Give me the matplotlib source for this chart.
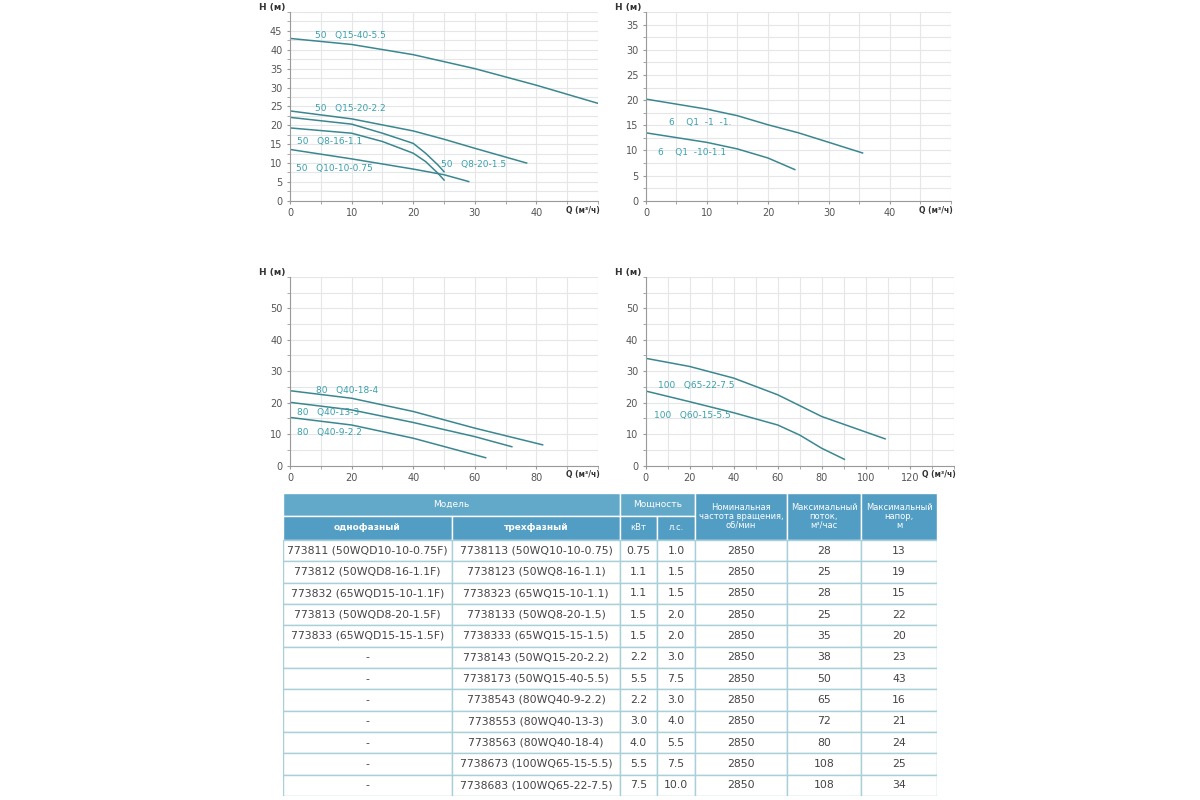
import matplotlib
matplotlib.use("Agg")
import matplotlib.pyplot as plt
from matplotlib.patches import Rectangle
from matplotlib.ticker import MultipleLocator

plt.rcParams['font.family'] = ['DejaVu Sans']

# ---- данные графиков (Q м3/ч, H м) ----
# график 1
q_15_40 = [0, 10, 20, 30, 40, 50]
h_15_40 = [43.0, 41.4, 38.7, 35.0, 30.6, 25.8]
q_15_20 = [0, 10, 20, 25, 30, 38.4]
h_15_20 = [23.8, 21.7, 18.5, 16.3, 13.9, 10.0]
q_8_20 = [0, 10, 15, 20, 22, 24, 25]
h_8_20 = [22.1, 20.3, 17.9, 15.2, 12.6, 9.5, 7.7]
q_8_16 = [0, 10, 15, 20, 22, 24, 25]
h_8_16 = [19.3, 17.9, 15.7, 12.6, 10.4, 7.3, 5.5]
q_10_10 = [0, 10, 20, 25, 29]
h_10_10 = [13.6, 11.1, 8.4, 6.9, 5.1]
# график 2
q_1_a = [0, 10, 15, 20, 25, 30, 35.5]
h_1_a = [20.2, 18.2, 16.9, 15.1, 13.5, 11.6, 9.5]
q_1_b = [0, 10, 15, 20, 24.4]
h_1_b = [13.5, 11.6, 10.3, 8.5, 6.2]
# график 3
q_40_18 = [0, 20, 40, 60, 82]
h_40_18 = [23.8, 21.4, 17.2, 11.9, 6.6]
q_40_13 = [0, 20, 40, 60, 72]
h_40_13 = [20.1, 17.7, 13.7, 9.2, 6.0]
q_40_9 = [0, 20, 40, 63.5]
h_40_9 = [15.3, 12.9, 8.7, 2.5]
# график 4
q_65_22 = [0, 20, 40, 60, 80, 108.8]
h_65_22 = [34.1, 31.5, 27.8, 22.5, 15.6, 8.5]
q_60_15 = [0, 20, 40, 60, 70, 80, 90.3]
h_60_15 = [23.7, 20.3, 16.8, 12.9, 9.7, 5.5, 2.0]

# ---- данные таблицы ----
odnofaz = ["773811 (50WQD10-10-0.75F)", "773812 (50WQD8-16-1.1F)", "773832 (65WQD15-10-1.1F)",
           "773813 (50WQD8-20-1.5F)", "773833 (65WQD15-15-1.5F)", "-", "-", "-", "-", "-", "-", "-"]
trehfaz = ["7738113 (50WQ10-10-0.75)", "7738123 (50WQ8-16-1.1)", "7738323 (65WQ15-10-1.1)",
           "7738133 (50WQ8-20-1.5)", "7738333 (65WQ15-15-1.5)", "7738143 (50WQ15-20-2.2)",
           "7738173 (50WQ15-40-5.5)", "7738543 (80WQ40-9-2.2)", "7738553 (80WQ40-13-3)",
           "7738563 (80WQ40-18-4)", "7738673 (100WQ65-15-5.5)", "7738683 (100WQ65-22-7.5)"]
kvt = ["0.75", "1.1", "1.1", "1.5", "1.5", "2.2", "5.5", "2.2", "3.0", "4.0", "5.5", "7.5"]
ls = ["1.0", "1.5", "1.5", "2.0", "2.0", "3.0", "7.5", "3.0", "4.0", "5.5", "7.5", "10.0"]
oboroty = ["2850"] * 12
potok = ["28", "25", "28", "25", "35", "38", "50", "65", "72", "80", "108", "108"]
napor = ["13", "19", "15", "22", "20", "23", "43", "16", "21", "24", "25", "34"]

line_c = '#3b8790'
lab_c = '#3aa0ad'
grid_c = '#e4e6e8'
tick_c = '#555555'

fig = plt.figure(figsize=(12, 8), dpi=100)


def make_axes(rect, xmax, ymax, xmaj, xmin, ymaj, ymin, xlast):
    ax = fig.add_axes(rect)
    ax.set_xlim(0, xmax)
    ax.set_ylim(0, ymax)
    ax.xaxis.set_minor_locator(MultipleLocator(xmin))
    ax.yaxis.set_minor_locator(MultipleLocator(ymin))
    ax.set_xticks(list(range(0, xlast + 1, xmaj)))
    ax.set_yticks(list(range(0, int(ymax), ymaj)))
    ax.grid(which='both', color=grid_c, lw=0.8)
    ax.set_axisbelow(True)
    for s in ['top', 'right']:
        ax.spines[s].set_visible(False)
    for s in ['left', 'bottom']:
        ax.spines[s].set_color('#9a9a9a')
        ax.spines[s].set_linewidth(0.8)
    ax.tick_params(which='both', length=2, color='#9a9a9a', labelsize=7, labelcolor=tick_c)
    ax.text(-0.1, 1.0, "H (м)", transform=ax.transAxes, fontsize=6.5, color='#333333',
            ha='left', va='bottom', fontweight='bold')
    ax.text(1.005, -0.025, "Q (м³/ч)", transform=ax.transAxes, fontsize=5.5, color='#333333',
            ha='right', va='top', fontweight='bold')
    return ax


# график 1
ax1 = make_axes([0.2417, 0.749, 0.2567, 0.236], 50, 50, 10, 5, 5, 2.5, 40)
ax1.set_yticks(list(range(0, 50, 5)))
for q, h in [(q_15_40, h_15_40), (q_15_20, h_15_20), (q_8_20, h_8_20),
             (q_8_16, h_8_16), (q_10_10, h_10_10)]:
    ax1.plot(q, h, color=line_c, lw=1.1)
ax1.text(4.0, 43.8, "50   Q15-40-5.5", color=lab_c, fontsize=6.5, va='center')
ax1.text(4.0, 24.5, "50   Q15-20-2.2", color=lab_c, fontsize=6.5, va='center')
ax1.text(1.2, 15.8, "50   Q8-16-1.1", color=lab_c, fontsize=6.5, va='center')
ax1.text(0.9, 8.6, "50   Q10-10-0.75", color=lab_c, fontsize=6.5, va='center')
ax1.text(24.5, 9.7, "50   Q8-20-1.5", color=lab_c, fontsize=6.5, va='center')

# график 2
ax2 = make_axes([0.5383, 0.749, 0.2542, 0.236], 50, 37.5, 10, 5, 5, 2.5, 40)
ax2.set_yticks(list(range(0, 40, 5)))
for q, h in [(q_1_a, h_1_a), (q_1_b, h_1_b)]:
    ax2.plot(q, h, color=line_c, lw=1.1)
ax2.text(3.8, 15.6, "6    Q1  -1  -1.", color=lab_c, fontsize=6.5, va='center')
ax2.text(2.0, 9.5, "6    Q1  -10-1.1", color=lab_c, fontsize=6.5, va='center')

# график 3
ax3 = make_axes([0.2417, 0.418, 0.2567, 0.236], 100, 60, 20, 10, 10, 5, 80)
for q, h in [(q_40_18, h_40_18), (q_40_13, h_40_13), (q_40_9, h_40_9)]:
    ax3.plot(q, h, color=line_c, lw=1.1)
ax3.text(8.4, 24.0, "80   Q40-18-4", color=lab_c, fontsize=6.5, va='center')
ax3.text(2.2, 17.0, "80   Q40-13-3", color=lab_c, fontsize=6.5, va='center')
ax3.text(2.2, 10.5, "80   Q40-9-2.2", color=lab_c, fontsize=6.5, va='center')

# график 4
ax4 = make_axes([0.5381, 0.418, 0.2567, 0.236], 140, 60, 20, 10, 10, 5, 120)
for q, h in [(q_65_22, h_65_22), (q_60_15, h_60_15)]:
    ax4.plot(q, h, color=line_c, lw=1.1)
ax4.text(5.8, 25.6, "100   Q65-22-7.5", color=lab_c, fontsize=6.5, va='center')
ax4.text(3.9, 15.8, "100   Q60-15-5.5", color=lab_c, fontsize=6.5, va='center')

# ---- таблица ----
tx = fig.add_axes([283 / 1200, 1 - 796 / 800, (937 - 283) / 1200, (796 - 493) / 800])
tx.set_xlim(283, 937)
tx.set_ylim(796, 493)
tx.axis('off')

hdr1 = '#62a8c9'
hdr2 = '#529dc3'
body_edge = '#a9cfd9'
cols = [283, 452, 620, 657, 695, 787, 861, 937]
y_h1, y_h2, y_b = 493, 516, 540
row_h = (796 - y_b) / 12


def cell(x0, x1, y0, y1, txt, fc, ec, tc, fs, bold=False):
    tx.add_patch(Rectangle((x0, y0), x1 - x0, y1 - y0, facecolor=fc, edgecolor=ec, lw=1.0))
    tx.text((x0 + x1) / 2, (y0 + y1) / 2, txt, ha='center', va='center', color=tc,
            fontsize=fs, fontweight='bold' if bold else 'normal', linespacing=1.0)


# шапка
cell(cols[0], cols[2], y_h1, y_h2, "Модель", hdr1, 'white', 'white', 6.5)
cell(cols[0], cols[1], y_h2, y_b, "однофазный", hdr2, 'white', 'white', 6.5, True)
cell(cols[1], cols[2], y_h2, y_b, "трехфазный", hdr2, 'white', 'white', 6.5, True)
cell(cols[2], cols[4], y_h1, y_h2, "Мощность", hdr1, 'white', 'white', 6.5)
cell(cols[2], cols[3], y_h2, y_b, "кВт", hdr2, 'white', 'white', 6)
cell(cols[3], cols[4], y_h2, y_b, "л.с.", hdr2, 'white', 'white', 6)
cell(cols[4], cols[5], y_h1, y_b, "Номинальная\nчастота вращения,\nоб/мин", hdr2, 'white', 'white', 6)
cell(cols[5], cols[6], y_h1, y_b, "Максимальный\nпоток,\nм³/час", hdr2, 'white', 'white', 6)
cell(cols[6], cols[7], y_h1, y_b, "Максимальный\nнапор,\nм", hdr2, 'white', 'white', 6)

# строки
for i in range(12):
    y0 = y_b + i * row_h
    vals = [odnofaz[i], trehfaz[i], kvt[i], ls[i], oboroty[i], potok[i], napor[i]]
    for j, v in enumerate(vals):
        cell(cols[j], cols[j + 1], y0, y0 + row_h, v, 'white', body_edge, '#444444', 7.8)

fig.savefig("out.png", dpi=100, facecolor='white')
